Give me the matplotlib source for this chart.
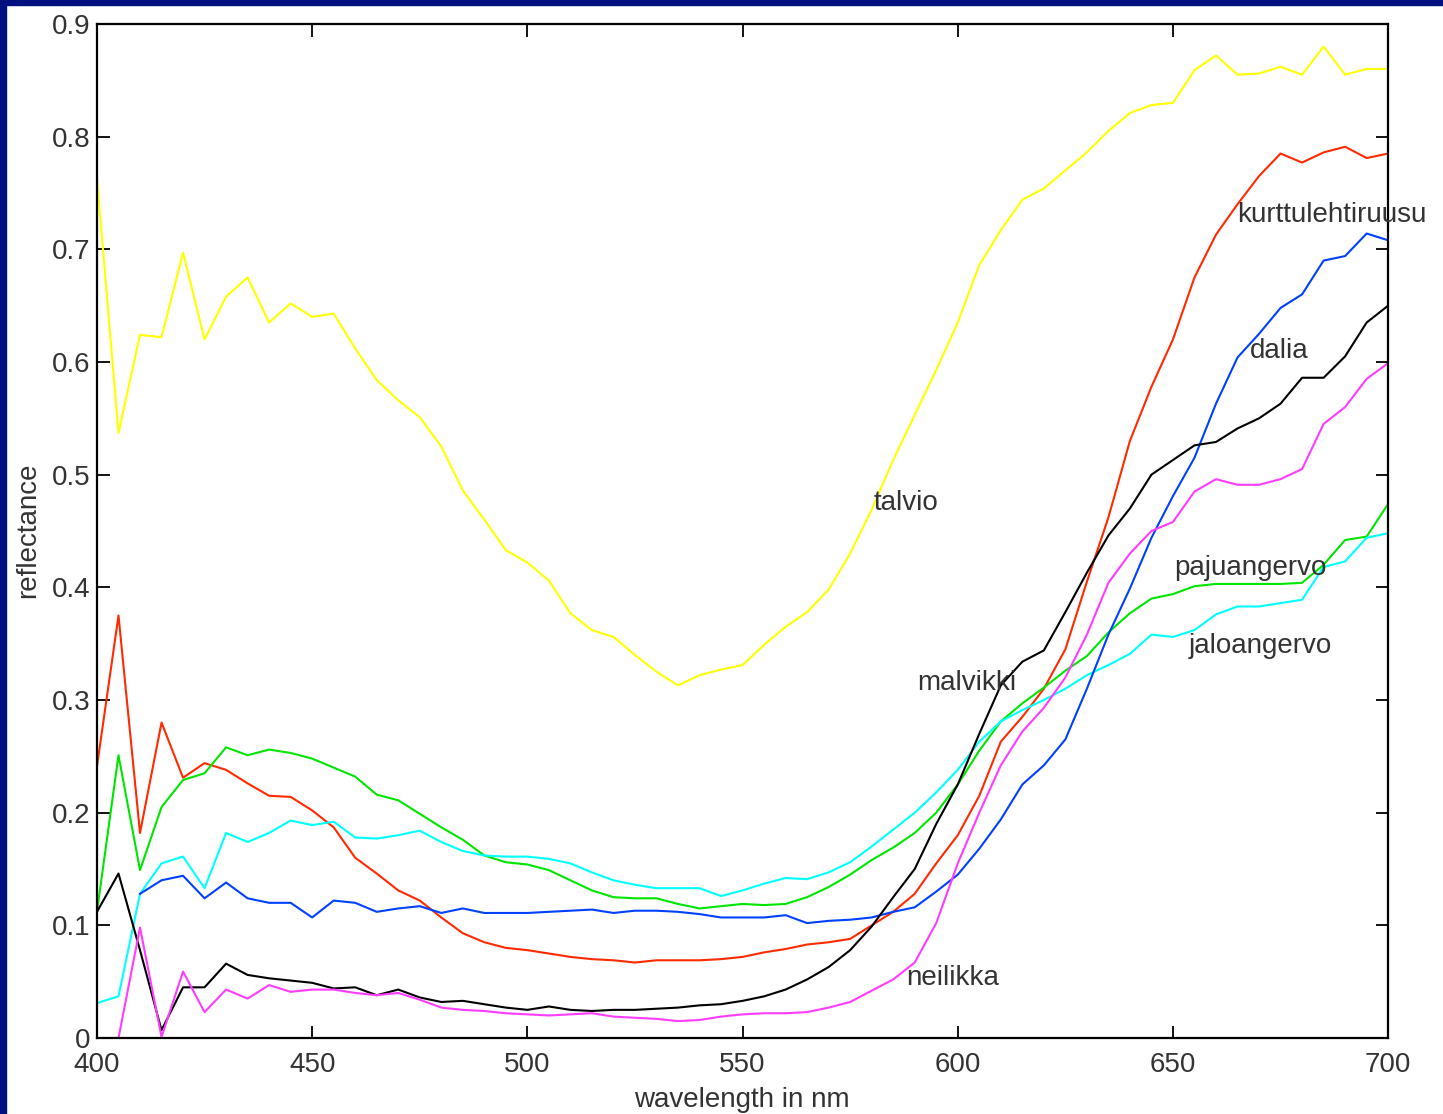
import numpy as np
import matplotlib
matplotlib.use("Agg")
import matplotlib.pyplot as plt
from matplotlib.patches import Rectangle

plt.rcParams["font.family"] = ["Liberation Sans", "DejaVu Sans"]

wavelength = np.arange(400, 701, 5)

talvio = [0.763, 0.537, 0.624, 0.622, 0.697, 0.620, 0.658, 0.675, 0.635, 0.652,
          0.640, 0.643, 0.612, 0.584, 0.566, 0.551, 0.525, 0.486, 0.460, 0.433,
          0.422, 0.406, 0.377, 0.362, 0.356, 0.340, 0.325, 0.313, 0.322, 0.327,
          0.331, 0.349, 0.365, 0.378, 0.398, 0.430, 0.469, 0.513, 0.553, 0.593,
          0.635, 0.686, 0.717, 0.744, 0.754, 0.770, 0.786, 0.805, 0.821, 0.828,
          0.830, 0.859, 0.872, 0.855, 0.856, 0.862, 0.855, 0.880, 0.855, 0.860,
          0.860]

kurttulehtiruusu = [0.241, 0.375, 0.182, 0.280, 0.231, 0.244, 0.238, 0.226, 0.215, 0.214,
                    0.202, 0.187, 0.160, 0.146, 0.131, 0.122, 0.107, 0.093, 0.085, 0.080,
                    0.078, 0.075, 0.072, 0.070, 0.069, 0.067, 0.069, 0.069, 0.069, 0.070,
                    0.072, 0.076, 0.079, 0.083, 0.085, 0.088, 0.100, 0.112, 0.128, 0.155,
                    0.180, 0.215, 0.263, 0.285, 0.310, 0.345, 0.405, 0.462, 0.530, 0.578,
                    0.620, 0.675, 0.713, 0.740, 0.765, 0.785, 0.777, 0.786, 0.791, 0.781,
                    0.785]

pajuangervo = [0.112, 0.251, 0.149, 0.205, 0.229, 0.235, 0.258, 0.251, 0.256, 0.253,
               0.248, 0.240, 0.232, 0.216, 0.211, 0.199, 0.187, 0.176, 0.162, 0.156,
               0.154, 0.149, 0.140, 0.131, 0.125, 0.124, 0.124, 0.119, 0.115, 0.117,
               0.119, 0.118, 0.119, 0.125, 0.134, 0.145, 0.158, 0.169, 0.182, 0.200,
               0.225, 0.255, 0.281, 0.297, 0.311, 0.326, 0.339, 0.360, 0.377, 0.390,
               0.394, 0.401, 0.403, 0.403, 0.403, 0.403, 0.404, 0.420, 0.442, 0.445,
               0.474]

jaloangervo = [0.031, 0.037, 0.128, 0.155, 0.161, 0.133, 0.182, 0.174, 0.182, 0.193,
               0.189, 0.192, 0.178, 0.177, 0.180, 0.184, 0.174, 0.166, 0.162, 0.161,
               0.161, 0.159, 0.155, 0.147, 0.140, 0.136, 0.133, 0.133, 0.133, 0.126,
               0.131, 0.137, 0.142, 0.141, 0.147, 0.156, 0.170, 0.185, 0.200, 0.218,
               0.238, 0.263, 0.281, 0.291, 0.300, 0.310, 0.322, 0.331, 0.341, 0.358,
               0.356, 0.362, 0.376, 0.383, 0.383, 0.386, 0.389, 0.418, 0.423, 0.444,
               0.448]

dalia = [np.nan, np.nan, 0.128, 0.140, 0.144, 0.124, 0.138, 0.124, 0.120, 0.120,
         0.107, 0.122, 0.120, 0.112, 0.115, 0.117, 0.111, 0.115, 0.111, 0.111,
         0.111, 0.112, 0.113, 0.114, 0.111, 0.113, 0.113, 0.112, 0.110, 0.107,
         0.107, 0.107, 0.109, 0.102, 0.104, 0.105, 0.107, 0.112, 0.116, 0.130,
         0.145, 0.168, 0.194, 0.225, 0.242, 0.265, 0.310, 0.358, 0.399, 0.444,
         0.481, 0.515, 0.563, 0.604, 0.625, 0.648, 0.660, 0.690, 0.694, 0.714,
         0.708]

malvikki = [0.112, 0.146, 0.078, 0.007, 0.045, 0.045, 0.066, 0.056, 0.053, 0.051,
            0.049, 0.044, 0.045, 0.038, 0.043, 0.036, 0.032, 0.033, 0.030, 0.027,
            0.025, 0.028, 0.025, 0.024, 0.025, 0.025, 0.026, 0.027, 0.029, 0.030,
            0.033, 0.037, 0.043, 0.052, 0.063, 0.078, 0.099, 0.125, 0.150, 0.190,
            0.225, 0.270, 0.313, 0.334, 0.344, 0.378, 0.413, 0.446, 0.470, 0.500,
            0.513, 0.526, 0.529, 0.541, 0.550, 0.563, 0.586, 0.586, 0.605, 0.635,
            0.650]

neilikka = [0.000, 0.000, 0.098, 0.001, 0.059, 0.023, 0.043, 0.035, 0.047, 0.041,
            0.043, 0.043, 0.040, 0.038, 0.040, 0.034, 0.027, 0.025, 0.024, 0.022,
            0.021, 0.020, 0.021, 0.022, 0.019, 0.018, 0.017, 0.015, 0.016, 0.019,
            0.021, 0.022, 0.022, 0.023, 0.027, 0.032, 0.042, 0.052, 0.067, 0.102,
            0.155, 0.200, 0.242, 0.272, 0.293, 0.320, 0.358, 0.404, 0.430, 0.450,
            0.458, 0.485, 0.496, 0.491, 0.491, 0.496, 0.505, 0.545, 0.560, 0.585,
            0.599]

series = [
    (talvio, "#ffff00"),
    (kurttulehtiruusu, "#ff2a00"),
    (pajuangervo, "#00e600"),
    (jaloangervo, "#00ffff"),
    (dalia, "#0040ff"),
    (malvikki, "#000000"),
    (neilikka, "#ff3cff"),
]

# label text, anchor (wavelength, reflectance) for the left edge
labels = [
    ("talvio", 580.5, 0.475),
    ("kurttulehtiruusu", 664.8, 0.730),
    ("dalia", 667.8, 0.610),
    ("pajuangervo", 650.4, 0.417),
    ("jaloangervo", 653.6, 0.348),
    ("malvikki", 590.5, 0.315),
    ("neilikka", 588.0, 0.053),
]

FS = 20
TXT = "#333333"

fig = plt.figure(figsize=(14.43, 11.14), dpi=100)
fig.patch.set_facecolor("white")
ax = fig.add_axes([0.0672, 0.0682, 0.8948, 0.9103])

for ys, c in series:
    ax.plot(wavelength, ys, color=c, lw=1.5)

for txt, x, y in labels:
    ax.text(x, y, txt, fontsize=FS, color=TXT, va="center", ha="left")

ax.set_xlim(400, 700)
ax.set_ylim(0, 0.9)
ax.set_xticks(np.arange(400, 701, 50))
ax.set_yticks(np.arange(0, 0.91, 0.1))
ax.set_yticklabels(["0"] + [f"{v:.1f}" for v in np.arange(0.1, 0.91, 0.1)])
ax.tick_params(direction="in", length=9, width=1.3, top=True, right=True,
               labelsize=FS, labelcolor=TXT)
ax.tick_params(axis="x", pad=10)
ax.tick_params(axis="y", pad=5)
for sp in ax.spines.values():
    sp.set_linewidth(1.6)

fig.text(742 / 1443, 1 - 1100 / 1114, "wavelength in nm", fontsize=FS, color=TXT,
         ha="center", va="center")
fig.text(28 / 1443, 1 - 530 / 1114, "reflectance", fontsize=FS, color=TXT,
         ha="center", va="center", rotation=90)

# navy frame strips on left and top
fig.patches.append(Rectangle((0, 0), 6 / 1443, 1, transform=fig.transFigure,
                             color="#00107f", zorder=10))
fig.patches.append(Rectangle((0, 1 - 5 / 1114), 1, 5 / 1114, transform=fig.transFigure,
                             color="#00107f", zorder=10))

fig.savefig("out.png", dpi=100)
